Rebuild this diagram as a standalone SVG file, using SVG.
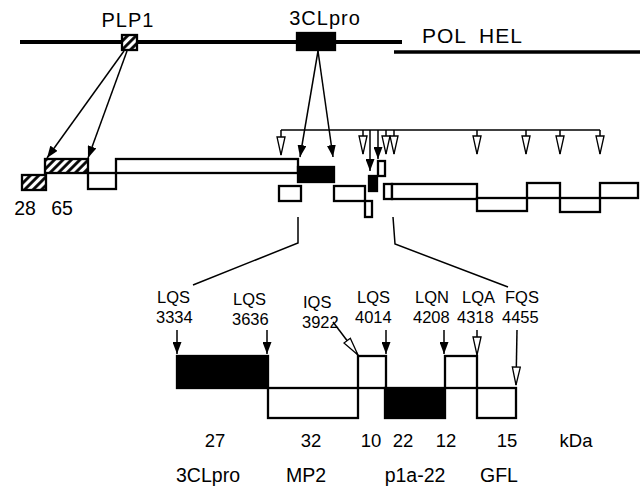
<svg xmlns="http://www.w3.org/2000/svg" width="640" height="488" viewBox="0 0 640 488">
<style>
text{font-family:"Liberation Sans",Arial,Helvetica,sans-serif;fill:#000}
.big{font-size:20px;letter-spacing:1px}
.lab{font-size:16.5px}
.num{font-size:18.5px}
.name{font-size:19.5px}
.box{fill:#fff;stroke:#000;stroke-width:2.3}
.blk{fill:#000;stroke:#000;stroke-width:2.3}
.hat{fill:url(#hatch);stroke:#000;stroke-width:2.3}
.ln{fill:none;stroke:#000;stroke-width:1.5}
.sa{marker-end:url(#solid)}
.ha{marker-end:url(#hollow)}
</style>
<defs>
<pattern id="hatch" patternUnits="userSpaceOnUse" width="6" height="6" patternTransform="rotate(45)">
<rect width="6" height="6" fill="#fff"/>
<line x1="1.5" y1="0" x2="1.5" y2="6" stroke="#000" stroke-width="2.8"/>
</pattern>
<marker id="solid" markerUnits="userSpaceOnUse" markerWidth="12" markerHeight="9" refX="12" refY="4.5" orient="auto">
<path d="M0,0 L12,4.5 L0,9 z" fill="#000"/>
</marker>
<marker id="hollow" markerUnits="userSpaceOnUse" markerWidth="20" markerHeight="10" refX="19" refY="5" orient="auto">
<path d="M1,1 L19,5 L1,9 z" fill="#fff" stroke="#000" stroke-width="1.3"/>
</marker>
</defs>

<g id="genome">
<line x1="20" y1="42" x2="402" y2="42" stroke="#000" stroke-width="4"/>
<line x1="394" y1="52" x2="640" y2="52" stroke="#000" stroke-width="3.5"/>
<text class="big" x="422" y="43" style="font-size:21px;word-spacing:6px">POL HEL</text>
</g>
<g id="plp1">
<rect class="hat" x="122" y="35" width="15" height="15"/>
<text class="big" x="128" y="27" text-anchor="middle">PLP1</text>
</g>
<g id="clpro">
<rect class="blk" x="297" y="33" width="38" height="17"/>
<text class="big" x="325" y="25" text-anchor="middle">3CLpro</text>
</g>

<g id="products">
<rect class="hat" x="22" y="175" width="24" height="15"/>
<rect class="hat" x="45" y="159" width="43" height="14"/>
<rect class="box" x="88" y="173" width="28" height="16"/>
<rect class="box" x="116" y="159" width="182" height="14"/>
<rect class="blk" x="298" y="167" width="36" height="15"/>
<rect class="box" x="279" y="186" width="22" height="15"/>
<rect class="box" x="334" y="186" width="31" height="15"/>
<rect class="box" x="365" y="201" width="7" height="16"/>
<rect class="blk" x="369" y="176" width="8" height="15"/>
<rect class="box" x="378" y="161" width="7" height="15"/>
<rect class="box" x="384" y="184" width="8" height="15"/>
<rect class="box" x="392" y="184" width="85" height="15"/>
<rect class="box" x="477" y="198" width="50" height="13"/>
<rect class="box" x="527" y="183" width="33" height="15"/>
<rect class="box" x="560" y="198" width="40" height="14"/>
<rect class="box" x="600" y="183" width="38" height="15"/>
<text x="25" y="215" text-anchor="middle" style="font-size:19.5px">28</text>
<text x="62" y="215" text-anchor="middle" style="font-size:19.5px">65</text>
</g>

<g id="detail">
<rect class="blk" x="177" y="356" width="91" height="32"/>
<rect class="box" x="268" y="388" width="90" height="30"/>
<rect class="box" x="358" y="356" width="28" height="32"/>
<rect class="blk" x="385" y="388" width="60" height="30"/>
<rect class="box" x="445" y="356" width="32" height="32"/>
<rect class="box" x="477" y="388" width="39" height="30"/>
</g>

<g id="sites">
<text class="lab" x="157" y="303">LQS</text><text class="lab" x="156" y="323">3334</text>
<text class="lab" x="233" y="305">LQS</text><text class="lab" x="232" y="325">3636</text>
<text class="lab" x="303" y="308">IQS</text><text class="lab" x="302" y="328">3922</text>
<text class="lab" x="357" y="303">LQS</text><text class="lab" x="355" y="323">4014</text>
<text class="lab" x="415" y="303">LQN</text><text class="lab" x="413" y="323">4208</text>
<text class="lab" x="462" y="303">LQA</text><text class="lab" x="457" y="323">4318</text>
<text class="lab" x="505" y="303">FQS</text><text class="lab" x="502" y="323">4455</text>
</g>

<g id="sizes">
<text class="num" x="215" y="447" text-anchor="middle">27</text>
<text class="num" x="311" y="447" text-anchor="middle">32</text>
<text class="num" x="371" y="447" text-anchor="middle">10</text>
<text class="num" x="403" y="447" text-anchor="middle">22</text>
<text class="num" x="446" y="447" text-anchor="middle">12</text>
<text class="num" x="507" y="447" text-anchor="middle">15</text>
<text class="num" x="576" y="447" text-anchor="middle">kDa</text>
<text class="name" x="208" y="482" text-anchor="middle">3CLpro</text>
<text class="name" x="306" y="482" text-anchor="middle">MP2</text>
<text class="name" x="415" y="482" text-anchor="middle">p1a-22</text>
<text class="name" x="499" y="482" text-anchor="middle">GFL</text>
</g>

<g id="connectors">
<line class="ln sa" x1="124" y1="51" x2="47" y2="158"/>
<line class="ln sa" x1="127" y1="51" x2="88" y2="158"/>
<line class="ln sa" x1="318" y1="51" x2="300" y2="157"/>
<line class="ln sa" x1="318" y1="51" x2="333" y2="157"/>
<line class="ln" x1="281" y1="130" x2="600" y2="130"/>
<line class="ln ha" x1="281" y1="130" x2="281" y2="155"/>
<line class="ln ha" x1="363" y1="130" x2="363" y2="154"/>
<line class="ln ha" x1="386" y1="130" x2="386" y2="154"/>
<line class="ln ha" x1="394" y1="130" x2="394" y2="154"/>
<line class="ln ha" x1="477" y1="130" x2="477" y2="154"/>
<line class="ln ha" x1="526" y1="130" x2="526" y2="154"/>
<line class="ln ha" x1="560" y1="130" x2="560" y2="154"/>
<line class="ln ha" x1="600" y1="130" x2="600" y2="154"/>
<line class="ln sa" x1="370" y1="130" x2="370" y2="171"/>
<line class="ln sa" x1="378" y1="130" x2="378" y2="159"/>
<polyline class="ln" points="298,217 298,243 193,285"/>
<polyline class="ln" points="393,217 395,244 508,287"/>
<line class="ln sa" x1="177" y1="330" x2="177" y2="354"/>
<line class="ln sa" x1="267" y1="330" x2="267" y2="354"/>
<line class="ln ha" x1="333" y1="322" x2="358" y2="355"/>
<line class="ln sa" x1="386" y1="330" x2="386" y2="354"/>
<line class="ln sa" x1="444" y1="330" x2="444" y2="354"/>
<line class="ln ha" x1="477" y1="330" x2="477" y2="355"/>
<line class="ln ha" x1="517" y1="330" x2="516" y2="385"/>
</g>
</svg>
